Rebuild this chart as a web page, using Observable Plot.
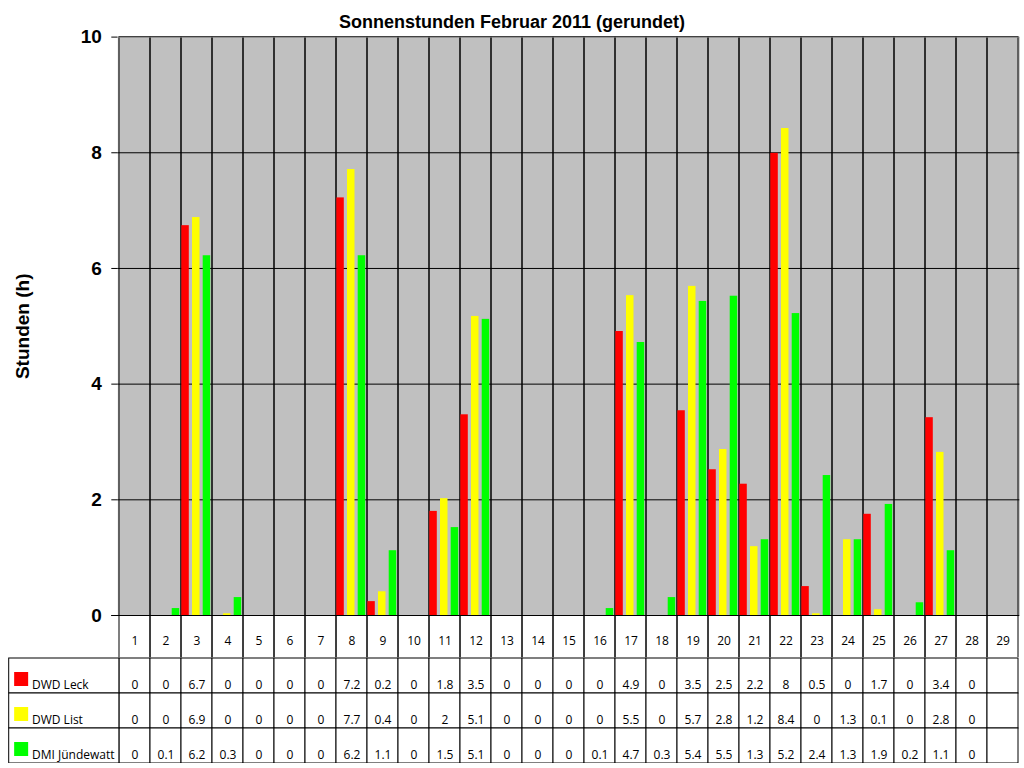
<!DOCTYPE html>
<html>
<head>
<meta charset="utf-8">
<script src="https://cdn.jsdelivr.net/npm/d3@7"></script>
<script src="https://cdn.jsdelivr.net/npm/@observablehq/plot@0.6"></script>
<style>
  html, body { margin: 0; padding: 0; background: #fff; }
  #wrap { position: relative; width: 1024px; }
  #title { position: absolute; left: 0; top: 12px; width: 1024px; line-height: 18px; text-align: center;
           font: bold 18px "Liberation Sans", Arial, sans-serif; color: #000; white-space: nowrap; z-index: 2; }
  svg { display: block; }
</style>
</head>
<body>
<div id="wrap">
<div id="title">Sonnenstunden Februar 2011 (gerundet)</div>
<div id="chart"></div>
<div id="table"></div>
</div>
<script>
// ---- data ----
const days = [1,2,3,4,5,6,7,8,9,10,11,12,13,14,15,16,17,18,19,20,21,22,23,24,25,26,27,28,29];
const stations = ["DWD Leck", "DWD List", "DMI Jündewatt"];
const stationColors = ["#ff0000", "#ffff00", "#00ff00"];

// bar heights (hours)
const leck = [0,0,6.74,0,0,0,0,7.22,0.24,0,1.80,3.47,0,0,0,0,4.91,0,3.54,2.52,2.27,7.99,0.50,0,1.75,0,3.42,0,null];
const list = [0,0,6.88,0.03,0,0,0,7.71,0.41,0,2.02,5.17,0,0,0,0,5.53,0,5.69,2.87,1.19,8.42,0.03,1.31,0.10,0,2.82,0,null];
const dmi  = [0,0.12,6.22,0.31,0,0,0,6.22,1.12,0,1.52,5.12,0,0,0,0.12,4.72,0.31,5.43,5.52,1.31,5.22,2.42,1.31,1.92,0.22,1.12,0,null];

// rounded values printed in the table
const leckTable = ["0","0","6.7","0","0","0","0","7.2","0.2","0","1.8","3.5","0","0","0","0","4.9","0","3.5","2.5","2.2","8","0.5","0","1.7","0","3.4","0",""];
const listTable = ["0","0","6.9","0","0","0","0","7.7","0.4","0","2","5.1","0","0","0","0","5.5","0","5.7","2.8","1.2","8.4","0","1.3","0.1","0","2.8","0",""];
const dmiTable  = ["0","0.1","6.2","0.3","0","0","0","6.2","1.1","0","1.5","5.1","0","0","0","0.1","4.7","0.3","5.4","5.5","1.3","5.2","2.4","1.3","1.9","0.2","1.1","0",""];

const yTicks = [0,2,4,6,8,10];
const gridTicks = [2,4,6,8];
const yLabel = "Stunden (h)";

// ---- layout ----
const W = 1024;
const mLeft = 117.3, mRight = 4.7;
const bw = (W - mLeft - mRight) / days.length;
const barW = 7.6;
const barLeft = [0.3, 11.0, 21.7];
const fontArial = '"Liberation Sans", Arial, sans-serif';
const fontTable = '"Open Sans", "Noto Sans", sans-serif';

const series = [leck, list, dmi];
const barMarks = series.map((vals, i) =>
  Plot.barY(days.map((d, j) => ({day: d, value: vals[j]})).filter(r => r.value != null && r.value > 0), {
    x: "day", y: "value", fill: stationColors[i],
    insetLeft: barLeft[i], insetRight: bw - barLeft[i] - barW
  })
);

const chart = Plot.plot({
  width: W,
  height: 657,
  marginTop: 36.6,
  marginBottom: 42,
  marginLeft: mLeft,
  marginRight: mRight,
  style: {fontFamily: fontArial, background: "transparent", color: "#000"},
  x: {type: "band", domain: days, padding: 0, axis: null},
  y: {domain: [0, 10], axis: null},
  marks: [
    Plot.frame({fill: "#c0c0c0", stroke: null}),
    Plot.ruleY(gridTicks, {stroke: "#000", strokeWidth: 1}),
    Plot.barY(days, {x: d => d, y1: 0, y2: 10, fill: "none", stroke: "#000", strokeWidth: 1, insetBottom: -42.5}),
    Plot.ruleY([10], {stroke: "#808080", strokeWidth: 1}),
    ...barMarks,
    Plot.ruleY([0], {stroke: "#000", strokeWidth: 1, insetLeft: -6}),
    Plot.axisY(yTicks, {tickSize: 6, tickPadding: 10, tickFormat: d => String(d), fontSize: 19, fontWeight: "bold", label: null, stroke: "#000"}),
    Plot.text([yLabel], {frameAnchor: "left", textAnchor: "middle", lineAnchor: "middle", rotate: -90, dx: -95, fontSize: 19, fontWeight: "bold", fill: "#000"}),
    Plot.text(days, {x: d => d, text: d => String(d), frameAnchor: "bottom", lineAnchor: "middle", dy: 26, fontSize: 12, fontFamily: fontTable, fill: "#000"})
  ]
});
document.getElementById("chart").appendChild(chart);

// ---- table ----
const tableTexts = [leckTable, listTable, dmiTable];
const tableRows = [];
stations.forEach((s, i) => days.forEach((d, j) => tableRows.push({day: d, station: s, label: tableTexts[i][j]})));

const table = Plot.plot({
  width: W,
  height: 106,
  marginTop: 0.5,
  marginBottom: 0.5,
  marginLeft: mLeft,
  marginRight: mRight,
  style: {fontFamily: fontTable, background: "transparent", color: "#000"},
  x: {type: "band", domain: days, padding: 0, axis: null},
  y: {type: "band", domain: stations, padding: 0, axis: null},
  marks: [
    Plot.cell(tableRows, {x: "day", y: "station", fill: "#fff", stroke: "#000", inset: 0}),
    Plot.cell(stations, {x: () => days[0], y: d => d, fill: "#fff", stroke: "#000", insetLeft: -110.3, insetRight: bw}),
    Plot.dot(stations, {x: () => days[0], y: d => d, symbol: "square", r: 7.9, fill: (d, i) => stationColors[i], stroke: null, dx: -113.85, dy: 3}),
    Plot.text(stations, {x: () => days[0], y: d => d, text: d => d, textAnchor: "start", lineAnchor: "middle", dx: -103, dy: 9, fontSize: 12, fill: "#000"}),
    Plot.text(tableRows.filter(r => r.label !== ""), {x: "day", y: "station", text: "label", lineAnchor: "middle", dy: 9, fontSize: 12, fill: "#000"})
  ]
});
document.getElementById("table").appendChild(table);
</script>
</body>
</html>
